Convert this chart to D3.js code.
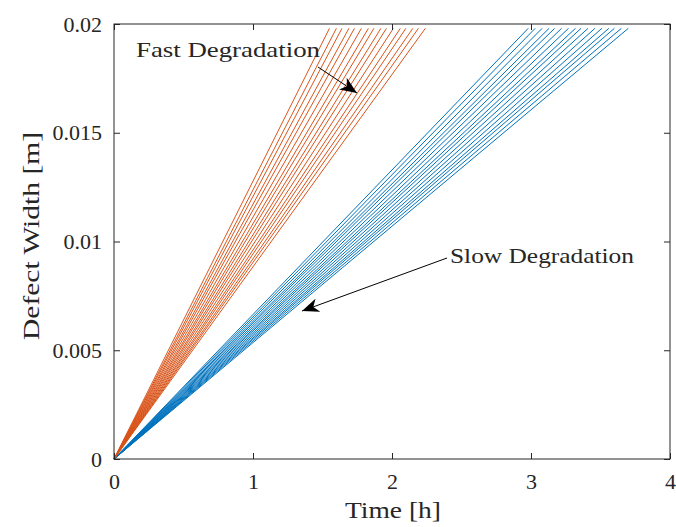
<!DOCTYPE html>
<html>
<head>
<meta charset="utf-8">
<script src="https://cdn.jsdelivr.net/npm/d3@7"></script>
<style>
  html, body { margin: 0; padding: 0; background: #fff; }
  svg text { font-family: "Liberation Serif", "DejaVu Serif", serif; fill: #262626; }
</style>
</head>
<body>
<svg id="chart" width="676" height="527"></svg>
<script>
"use strict";

/* each run is a straight line from the origin to the width limit */
const WIDTH_LIMIT = 0.0198;
const fastEndTimes = [1.55, 1.60, 1.64, 1.69, 1.73, 1.78, 1.83, 1.87, 1.92, 1.96, 2.01, 2.06, 2.10, 2.15, 2.19, 2.24];
const slowEndTimes = [2.98, 3.03, 3.08, 3.13, 3.17, 3.22, 3.27, 3.32, 3.36, 3.41, 3.46, 3.51, 3.56, 3.60, 3.65, 3.70];
const xTicks = [0, 1, 2, 3, 4];
const yTicks = [0, 0.005, 0.01, 0.015, 0.02];
const yTickLabels = ["0", "0.005", "0.01", "0.015", "0.02"];

const COLORS = { fast: "#D95319", slow: "#0072BD" };

const svg = d3.select("#chart");
const margin = { left: 114, right: 6, top: 24, bottom: 68 };
const W = 676, H = 527;

const x = d3.scaleLinear([0, 4], [margin.left, W - margin.right]);
const y = d3.scaleLinear([0, 0.02], [H - margin.bottom, margin.top]);

const line = d3.line().x((d) => x(d[0])).y((d) => y(d[1]));
const runs = (times) => times.map((t) => [[0, 0], [t, WIDTH_LIMIT]]);

/* -- runs ------------------------------------------------------------- */

const plot = svg.append("g");
plot.selectAll("path.slow")
  .data(runs(slowEndTimes))
  .join("path")
  .attr("class", "slow")
  .attr("d", line)
  .attr("fill", "none")
  .attr("stroke", COLORS.slow)
  .attr("stroke-width", 1);

plot.selectAll("path.fast")
  .data(runs(fastEndTimes))
  .join("path")
  .attr("class", "fast")
  .attr("d", line)
  .attr("fill", "none")
  .attr("stroke", COLORS.fast)
  .attr("stroke-width", 1);

/* -- axes box ------------------------------------------------------------ */

const axisColor = "#262626";
const tick = 6;

function styleAxis(g) {
  g.select(".domain").remove();
  g.selectAll(".tick line").attr("stroke", axisColor);
  g.selectAll(".tick text").attr("font-size", 22).attr("fill", axisColor);
}

svg.append("g")
  .attr("transform", `translate(0,${y(0)})`)
  .call(d3.axisBottom(x).tickValues(xTicks).tickSize(-tick).tickPadding(14).tickFormat(d3.format("d")))
  .call(styleAxis);

svg.append("g")
  .attr("transform", `translate(0,${y(0.02)})`)
  .call(d3.axisTop(x).tickValues(xTicks).tickSize(-tick).tickFormat(""))
  .call(styleAxis);

svg.append("g")
  .attr("transform", `translate(${x(0)},0)`)
  .call(d3.axisLeft(y).tickValues(yTicks).tickSize(-tick).tickPadding(12)
    .tickFormat((d, i) => yTickLabels[i]))
  .call(styleAxis);

svg.append("g")
  .attr("transform", `translate(${x(4)},0)`)
  .call(d3.axisRight(y).tickValues(yTicks).tickSize(-tick).tickFormat(""))
  .call(styleAxis);

svg.append("rect")
  .attr("x", x(0)).attr("y", y(0.02))
  .attr("width", x(4) - x(0)).attr("height", y(0) - y(0.02))
  .attr("fill", "none").attr("stroke", axisColor).attr("stroke-width", 1);

/* -- labels -------------------------------------------------------------- */

svg.append("text")
  .attr("x", (x(0) + x(4)) / 2 + 1).attr("y", 518)
  .attr("text-anchor", "middle").attr("font-size", 24)
  .attr("textLength", 96).attr("lengthAdjust", "spacingAndGlyphs")
  .text("Time [h]");

svg.append("text")
  .attr("transform", `translate(39,236) rotate(-90)`)
  .attr("text-anchor", "middle").attr("font-size", 24)
  .attr("textLength", 208).attr("lengthAdjust", "spacingAndGlyphs")
  .text("Defect Width [m]");

/* -- annotations ----------------------------------------------------------- */

const defs = svg.append("defs");
defs.append("marker")
  .attr("id", "head")
  .attr("viewBox", "0 -7 17 14")
  .attr("refX", 17)
  .attr("markerWidth", 17)
  .attr("markerHeight", 14)
  .attr("markerUnits", "userSpaceOnUse")
  .attr("orient", "auto")
  .append("path")
  .attr("d", "M0,-7L17,0L0,7L5,0Z")
  .attr("fill", "#000");

const notes = [
  { text: "Fast Degradation", tx: 136, ty: 57, from: [318, 67], to: [357, 93] },
  { text: "Slow Degradation", tx: 450, ty: 263, from: [447, 258], to: [302, 311] }
];

for (const n of notes) {
  svg.append("text")
    .attr("x", n.tx).attr("y", n.ty)
    .attr("font-size", 22).attr("fill", "#000")
    .attr("textLength", 184).attr("lengthAdjust", "spacingAndGlyphs")
    .text(n.text);
  svg.append("line")
    .attr("x1", n.from[0]).attr("y1", n.from[1])
    .attr("x2", n.to[0]).attr("y2", n.to[1])
    .attr("stroke", "#000").attr("stroke-width", 1)
    .attr("marker-end", "url(#head)");
}
</script>
</body>
</html>
